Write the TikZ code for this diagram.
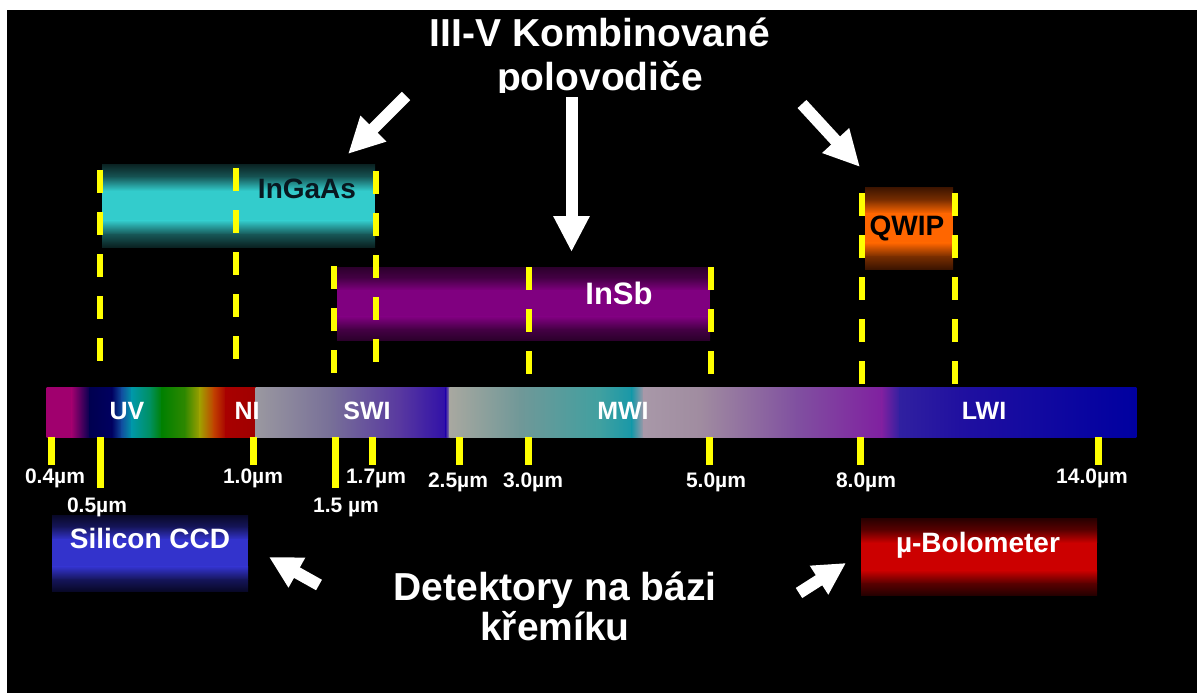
\documentclass[tikz,border=0pt]{standalone}
\usepackage{fontspec}
\setmainfont{Liberation Sans}
\usetikzlibrary{arrows.meta}
\definecolor{s1}{HTML}{A0006E}
\definecolor{s2}{HTML}{000050}
\definecolor{s3}{HTML}{000060}
\definecolor{s4}{HTML}{1050A0}
\definecolor{s5}{HTML}{0098A8}
\definecolor{s6}{HTML}{009060}
\definecolor{s7}{HTML}{008000}
\definecolor{s8}{HTML}{308800}
\definecolor{s9}{HTML}{A0A000}
\definecolor{s10}{HTML}{C04000}
\definecolor{s11}{HTML}{A80000}
\definecolor{s12}{HTML}{A00000}
\definecolor{s13}{HTML}{9A98A0}
\definecolor{s14}{HTML}{787098}
\definecolor{s15}{HTML}{5838A0}
\definecolor{s16}{HTML}{3010A8}
\definecolor{s17}{HTML}{A8A8A0}
\definecolor{s18}{HTML}{709898}
\definecolor{s19}{HTML}{40A0A0}
\definecolor{s20}{HTML}{1898A8}
\definecolor{s21}{HTML}{A898A8}
\definecolor{s22}{HTML}{A08CA0}
\definecolor{s23}{HTML}{8050A0}
\definecolor{s24}{HTML}{8020A0}
\definecolor{s25}{HTML}{3020A0}
\definecolor{s26}{HTML}{2010A0}
\definecolor{s27}{HTML}{0000A0}
\definecolor{ylw}{HTML}{FFFF00}
\definecolor{darktext}{HTML}{081820}
\newcommand{\mkboxcolors}[3]{%
  \definecolor{#1mid}{HTML}{#2}\definecolor{#1dark}{HTML}{#3}%
  \colorlet{#1q}{#1mid!30!#1dark}}
\mkboxcolors{cy}{33CCCC}{0A2222}
\mkboxcolors{pu}{800080}{2C002C}
\mkboxcolors{or}{FF6600}{3C1400}
\mkboxcolors{bl}{3333CC}{080828}
\mkboxcolors{rd}{CC0000}{260000}
% #1 colour prefix, #2 x, #3 y (top), #4 width, #5 height
\newcommand{\gradfill}[5]{%
  \shade[top color=#1dark, bottom color=#1q] (#2,#3) rectangle (#2+#4,#3+0.15*#5+0.3);
  \shade[top color=#1q, bottom color=#1mid] (#2,#3+0.15*#5) rectangle (#2+#4,#3+0.32*#5+0.3);
  \fill[#1mid] (#2,#3+0.32*#5) rectangle (#2+#4,#3+0.68*#5+0.3);
  \shade[top color=#1mid, bottom color=#1q] (#2,#3+0.68*#5) rectangle (#2+#4,#3+0.85*#5+0.3);
  \shade[top color=#1q, bottom color=#1dark] (#2,#3+0.85*#5) rectangle (#2+#4,#3+#5);}
\begin{document}
\begin{tikzpicture}[x=1pt,y=-1pt,
  lbl/.style={text=white, font=\bfseries\fontsize{21}{21}\selectfont, anchor=base, inner sep=0pt},
  bandlbl/.style={text=white, font=\bfseries\fontsize{25}{25}\selectfont, anchor=base, inner sep=0pt},
  boxlbl/.style={font=\bfseries\fontsize{28}{28}\selectfont, anchor=base, inner sep=0pt},
  bigtext/.style={text=white, font=\bfseries\fontsize{39}{39}\selectfont, anchor=base, inner sep=0pt},
  ytick/.style={draw=ylw, line width=7pt},
  ydash/.style={draw=ylw, line width=6pt, dash pattern=on 23pt off 19pt},
  detbox/.style={draw=none, fill=none, inner sep=0pt, anchor=north west},
  bigarrow/.style={draw=white, line width=12pt, -{Triangle[width=34pt,length=36pt]}},
  smallarrow/.style={draw=white, line width=12pt, -{Triangle[width=32pt,length=32pt]}}
]
\useasboundingbox (0,0) rectangle (1197,693);
\fill[white] (0,0) rectangle (1197,693);
\fill[black] (7,10) rectangle (1197,693);

% title
\begin{scope}
\clip (0,0) rectangle (1197,92);
\node[bigtext] (title1) at (600,47) {III-V Kombinované};
\node[bigtext] (title2) at (600,91) {polovodiče};
\end{scope}

% detector boxes (gradient fills, then named frames)
\gradfill{cy}{102}{164}{273}{83}
\gradfill{pu}{337}{267}{373}{73}
\gradfill{or}{865}{187}{88}{82}
\gradfill{bl}{52}{515}{196}{76}
\gradfill{rd}{861}{518}{236}{77}
\node[detbox, minimum width=273pt, minimum height=83pt] (ingaas) at (102,164) {};
\node[detbox, minimum width=373pt, minimum height=73pt] (insb) at (337,267) {};
\node[detbox, minimum width=88pt, minimum height=82pt] (qwip) at (865,187) {};
\node[detbox, minimum width=196pt, minimum height=76pt] (ccd) at (52,515) {};
\node[detbox, minimum width=236pt, minimum height=77pt] (bolo) at (861,518) {};

% spectrum bar
\foreach \xa/\xb/\ca/\cb in {47/72/s1/s1, 72/90/s1/s2, 90/112/s2/s3, 112/122/s3/s4,
  122/132/s4/s5, 132/150/s5/s6, 150/162/s6/s7, 162/185/s7/s8, 185/200/s8/s9,
  200/214/s9/s10, 214/226/s10/s11, 226/256/s11/s12, 256/330/s13/s14,
  330/400/s14/s15, 400/446/s15/s16, 446/450/s16/s17, 450/520/s17/s18,
  520/600/s18/s19, 600/632/s19/s20, 632/644/s20/s21, 644/700/s21/s22,
  700/797/s22/s23, 797/882/s23/s24, 882/900/s24/s25, 900/960/s25/s26,
  960/1136/s26/s27}
  {\shade[left color=\ca, right color=\cb] (\xa-0.3,387) rectangle (\xb+0.3,437);}
\node[bandlbl] (uv) at (127,419) {UV};
\node[bandlbl] (ni) at (247,419) {NI};
\node[bandlbl] (swi) at (367,419) {SWI};
\node[bandlbl] (mwi) at (623,419) {MWI};
\node[bandlbl] (lwi) at (984,419) {LWI};

% dashed guides
\draw[ydash] (100,170) -- (100,362);
\draw[ydash] (236,168) -- (236,362);
\draw[ydash] (376,171) -- (376,364);
\draw[ydash] (334,266) -- (334,374);
\draw[ydash] (529,267) -- (529,376);
\draw[ydash] (711,267) -- (711,375);
\draw[ydash] (862,193) -- (862,386);
\draw[ydash] (955,193) -- (955,386);

% box labels
\node[boxlbl, text=darktext] (ingaasl) at (307,198) {InGaAs};
\node[boxlbl, text=white, font=\bfseries\fontsize{31}{31}\selectfont] (insbl) at (619,304) {InSb};
\node[boxlbl, text=black] (qwipl) at (907,235) {QWIP};
\node[boxlbl, text=white] (ccdl) at (150,548) {Silicon CCD};
\node[boxlbl, text=white] (bolol) at (978,552) {µ-Bolometer};

% ticks
\draw[ytick] (51,437) -- (51,465);
\draw[ytick] (100,437) -- (100,488);
\draw[ytick] (253,437) -- (253,465);
\draw[ytick] (335,437) -- (335,488);
\draw[ytick] (372,437) -- (372,465);
\draw[ytick] (459,437) -- (459,465);
\draw[ytick] (528,437) -- (528,465);
\draw[ytick] (709,437) -- (709,465);
\draw[ytick] (860,437) -- (860,465);
\draw[ytick] (1098,437) -- (1098,465);

% tick labels
\node[lbl] (l04) at (55,483) {0.4µm};
\node[lbl] (l05) at (97,512) {0.5µm};
\node[lbl] (l10) at (253,483) {1.0µm};
\node[lbl] (l15) at (346,512) {1.5 µm};
\node[lbl] (l17) at (376,483) {1.7µm};
\node[lbl] (l25) at (458,487) {2.5µm};
\node[lbl] (l30) at (533,487) {3.0µm};
\node[lbl] (l50) at (716,487) {5.0µm};
\node[lbl] (l80) at (866,487) {8.0µm};
\node[lbl] (l140) at (1092,483) {14.0µm};

% bottom text
\node[bigtext] (det1) at (555,600) {Detektory na bázi};
\node[bigtext] (det2) at (555,640) {křemíku};

% arrows
\coordinate (aLs) at (406,96);
\coordinate (aLe) at (348,154);
\coordinate (aMs) at (571.5,97);
\coordinate (aMe) at (571.5,252);
\coordinate (aRs) at (802,104);
\coordinate (aRe) at (860,167);
\coordinate (aCs) at (319,585);
\coordinate (aCe) at (269,557);
\coordinate (aBs) at (799,593);
\coordinate (aBe) at (846,563);
\draw[bigarrow] (aLs) -- (aLe);
\draw[bigarrow] (aMs) -- (aMe);
\draw[bigarrow] (aRs) -- (aRe);
\draw[smallarrow] (aCs) -- (aCe);
\draw[smallarrow] (aBs) -- (aBe);
\end{tikzpicture}
\end{document}
